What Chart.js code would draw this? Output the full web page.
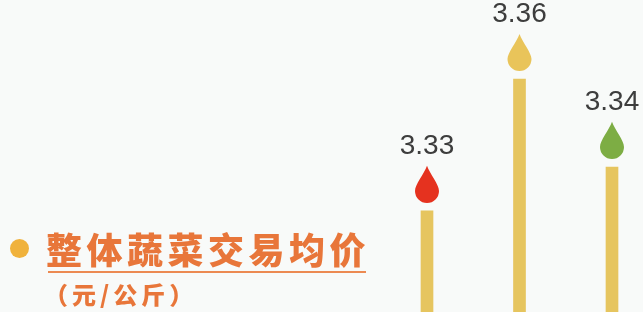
<!DOCTYPE html>
<html>
<head>
<meta charset="utf-8">
<script src="https://cdn.jsdelivr.net/npm/chart.js@4/dist/chart.umd.min.js"></script>
<style>
  html, body { margin: 0; padding: 0; background: #f8faf9; }
  #wrap { position: relative; width: 643px; height: 312px; overflow: hidden; background: #f8faf9; }
  #c { position: absolute; left: 0; top: 0; }
  .dot { position: absolute; left: 10px; top: 239px; width: 19px; height: 19px; border-radius: 50%; background: #f0b23c; }
  .title { position: absolute; left: 46px; top: 229px; font-family: "Noto Sans CJK SC", sans-serif; font-weight: 900; font-size: 36px; line-height: 38px; letter-spacing: 4.5px; color: #e8763a; white-space: nowrap; }
  .rule { position: absolute; left: 48px; top: 271px; width: 318px; height: 2px; background: #ec8a52; }
  .sub { position: absolute; left: 44px; top: 279px; font-family: "Noto Sans CJK SC", sans-serif; font-weight: 900; font-size: 24px; line-height: 30px; letter-spacing: 4px; color: #e8763a; white-space: nowrap; }
</style>
</head>
<body>
<div id="wrap">
  <canvas id="c" width="643" height="312"></canvas>
  <div class="dot"></div>
  <div class="title">整体蔬菜交易均价</div>
  <div class="rule"></div>
  <div class="sub">（元/公斤）</div>
</div>
<script>
// Data
const categories = ['1', '2', '3'];
const values = [3.33, 3.36, 3.34];
const valueLabels = ['3.33', '3.36', '3.34'];
// Styles
const dropColors = ['#e5321f', '#e9c45a', '#7dad44'];
const barColor = '#e6c55f';

const dropPlugin = {
  id: 'drops',
  afterDatasetsDraw(chart) {
    const ctx = chart.ctx;
    const meta = chart.getDatasetMeta(0);
    meta.data.forEach((bar, i) => {
      const x = bar.x, y = bar.y;
      const r = 12;
      const cy = y - 8 - r;
      const tip = cy - 2.1 * r;
      ctx.save();
      ctx.beginPath();
      ctx.moveTo(x, tip);
      ctx.bezierCurveTo(x + r * 0.25, tip + r * 0.7, x + r, cy - r * 0.55, x + r, cy);
      ctx.arc(x, cy, r, 0, Math.PI, false);
      ctx.bezierCurveTo(x - r, cy - r * 0.55, x - r * 0.25, tip + r * 0.7, x, tip);
      ctx.closePath();
      ctx.fillStyle = dropColors[i];
      ctx.fill();
      ctx.fillStyle = '#3d3d3d';
      ctx.font = '28px "Liberation Sans", Arial, sans-serif';
      ctx.textAlign = 'center';
      ctx.textBaseline = 'alphabetic';
      ctx.fillText(valueLabels[i], x, tip - 12);
      ctx.restore();
    });
  }
};

new Chart(document.getElementById('c'), {
  type: 'bar',
  data: {
    labels: categories,
    datasets: [{
      data: values,
      backgroundColor: barColor,
      borderWidth: 0,
      barThickness: 12,
      clip: false
    }]
  },
  options: {
    responsive: false,
    animation: false,
    layout: { padding: { left: 427, right: 31, top: 0, bottom: 0 } },
    plugins: { legend: { display: false }, tooltip: { enabled: false } },
    scales: {
      x: { display: false, offset: false },
      y: { display: false, min: 3.307, max: 3.378 }
    }
  },
  plugins: [dropPlugin]
});
</script>
</body>
</html>
